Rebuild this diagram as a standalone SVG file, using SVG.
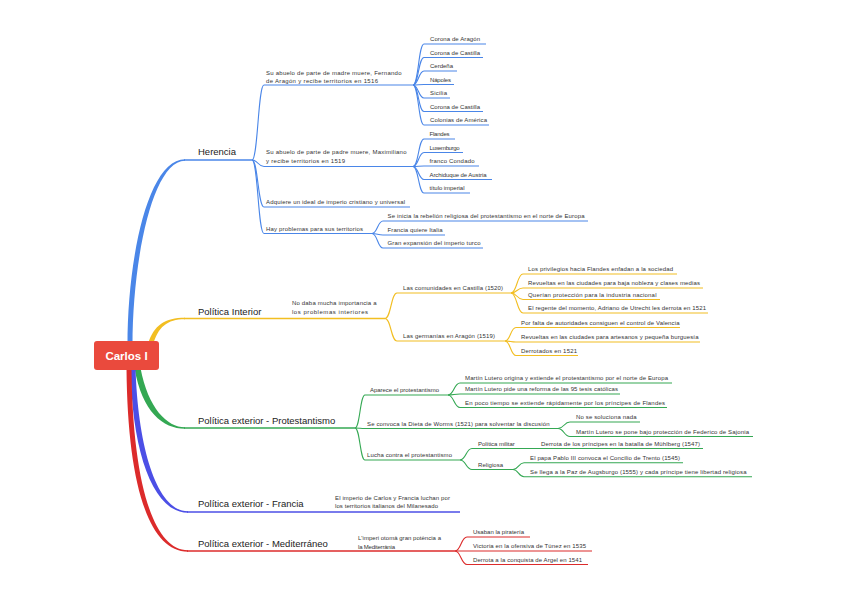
<svg xmlns="http://www.w3.org/2000/svg" width="848" height="599" viewBox="0 0 848 599">
<style>
.t{font-family:"Liberation Sans",Arial,sans-serif;font-size:6px;fill:#333}
.m{font-family:"Liberation Sans",Arial,sans-serif;font-size:9.5px;fill:#222}
.c{fill:none;stroke-width:1.1}
.u{fill:none;stroke-width:1.4}
.B{stroke:#4a86e8}.Y{stroke:#f2be22}.G{stroke:#34a853}.P{stroke:#4c4fe6}.R{stroke:#dc2b2b}
</style>
<rect width="848" height="599" fill="#ffffff"/>
<g id="connectors">
<path d="M127.5,345 C127.5,258 148,159.3 185,159.3 L185,160.7 C152,161 132.5,262 132.5,345 Z" fill="#4a86e8"/>
<path d="M148,344 C154,325 165,317.8 185,317.8 L185,319.2 C167,319.2 158,327 153,345 Z" fill="#f2be22"/>
<path d="M134.5,368 C142,412 163,428.7 185,428.7 L185,427.3 C167,427.3 148,408 140.5,368 Z" fill="#34a853"/>
<path d="M130.5,368 C132,452 153,512.7 188,512.7 L188,511.3 C157,511.3 138,448 135.5,368 Z" fill="#4c4fe6"/>
<path d="M126.5,368 C127.5,482 148,551.7 188,551.7 L188,550.3 C152,550.3 132.5,478 131.5,368 Z" fill="#dc2b2b"/>
<g class="B">
<path class="u" d="M184,160 L252,160"/>
<path class="c" d="M252,160 C258,160 258,85 264,85 L413,85"/>
<path class="c" d="M252,160 C258,160 258,166.5 264,166.5 L413,166.5"/>
<path class="c" d="M252,160 C258,160 258,207 264,207 L410,207"/>
<path class="c" d="M252,160 C258,160 258,233.5 264,233.5 L372,233.5"/>
<path class="c" d="M413,85 C418.5,85 418.5,44 424,44 L486,44"/>
<path class="c" d="M413,85 C418.5,85 418.5,57.5 424,57.5 L483,57.5"/>
<path class="c" d="M413,85 C418.5,85 418.5,71 424,71 L457,71"/>
<path class="c" d="M413,85 C418.5,85 418.5,84.5 424,84.5 L454,84.5"/>
<path class="c" d="M413,85 C418.5,85 418.5,98 424,98 L450,98"/>
<path class="c" d="M413,85 C418.5,85 418.5,111.5 424,111.5 L483,111.5"/>
<path class="c" d="M413,85 C418.5,85 418.5,125 424,125 L489,125"/>
<path class="c" d="M413,166.5 C418.5,166.5 418.5,139 424,139 L455,139"/>
<path class="c" d="M413,166.5 C418.5,166.5 418.5,152.5 424,152.5 L463,152.5"/>
<path class="c" d="M413,166.5 C418.5,166.5 418.5,166 424,166 L479,166"/>
<path class="c" d="M413,166.5 C418.5,166.5 418.5,179.5 424,179.5 L492,179.5"/>
<path class="c" d="M413,166.5 C418.5,166.5 418.5,193 424,193 L470,193"/>
<path class="c" d="M372,233.5 C377.5,233.5 377.5,221 383,221 L588,221"/>
<path class="c" d="M372,233.5 C377.5,233.5 377.5,235 383,235 L445,235"/>
<path class="c" d="M372,233.5 C377.5,233.5 377.5,248 383,248 L483,248"/>
</g>
<g class="Y">
<path class="u" d="M184,318.5 L385,318.5"/>
<path class="c" d="M385,318.5 C391,318.5 391,293 397,293 L511,293"/>
<path class="c" d="M385,318.5 C391,318.5 391,341 397,341 L505,341"/>
<path class="c" d="M511,293 C517,293 517,274 523,274 L677,274"/>
<path class="c" d="M511,293 C517,293 517,288 523,288 L703,288"/>
<path class="c" d="M511,293 C517,293 517,299.5 523,299.5 L660,299.5"/>
<path class="c" d="M511,293 C517,293 517,313 523,313 L708,313"/>
<path class="c" d="M505,341 C510.5,341 510.5,327.5 516,327.5 L680,327.5"/>
<path class="c" d="M505,341 C510.5,341 510.5,342 516,342 L700,342"/>
<path class="c" d="M505,341 C510.5,341 510.5,355.5 516,355.5 L578,355.5"/>
</g>
<g class="G">
<path class="u" d="M184,428 L355,428"/>
<path class="c" d="M355,428 C360,428 360,395 365,395 L448,395"/>
<path class="c" d="M355,428 C360,428 360,428.5 365,428.5 L558,428.5"/>
<path class="c" d="M355,428 C360,428 360,460 365,460 L460,460"/>
<path class="c" d="M448,395 C454,395 454,383 460,383 L672,383"/>
<path class="c" d="M448,395 C454,395 454,394 460,394 L620,394"/>
<path class="c" d="M448,395 C454,395 454,407.5 460,407.5 L667,407.5"/>
<path class="c" d="M558,428.5 C564,428.5 564,422 570,422 L640,422"/>
<path class="c" d="M558,428.5 C564,428.5 564,436.5 570,436.5 L753,436.5"/>
<path class="c" d="M460,460 C466,460 466,448.5 472,448.5 L703,448.5"/>
<path class="c" d="M460,460 C466,460 466,469.5 472,469.5 L513,469.5"/>
<path class="c" d="M513,469.5 C518.5,469.5 518.5,462.7 524,462.7 L683,462.7"/>
<path class="c" d="M513,469.5 C518.5,469.5 518.5,476.7 524,476.7 L752,476.7"/>
</g>
<g class="P">
<path class="u" d="M187,512 L460,512"/>
</g>
<g class="R">
<path class="u" d="M187,551 L455,551"/>
<path class="c" d="M455,551 C461,551 461,537 467,537 L530,537"/>
<path class="c" d="M455,551 C461,551 461,551 467,551 L592,551"/>
<path class="c" d="M455,551 C461,551 461,564.5 467,564.5 L588,564.5"/>
</g>
</g>
<g id="n-carlos">
<rect x="94" y="341" width="65" height="29" rx="3" fill="#ea4a3d"/>
<text x="126.5" y="359.8" text-anchor="middle" font-family="Liberation Sans, Arial, sans-serif" font-size="11.5" font-weight="bold" fill="#ffffff">Carlos I</text>
</g>
<g id="n-herencia"><text class="m" x="198" y="154.5">Herencia</text></g>
<g id="n-h1"><text class="t" x="266" y="74.5" textLength="135.5">Su abuelo de parte de madre muere, Fernando</text><text class="t" x="266" y="82.5" textLength="112">de Aragón y recibe territorios en 1516</text></g>
<g id="n-h1a"><text class="t" x="430" y="41.4" textLength="50">Corona de Aragón</text></g>
<g id="n-h1b"><text class="t" x="430" y="54.9" textLength="50">Corona de Castilla</text></g>
<g id="n-h1c"><text class="t" x="430" y="68.4" textLength="23">Cerdeña</text></g>
<g id="n-h1d"><text class="t" x="430" y="81.9" textLength="21">Nápoles</text></g>
<g id="n-h1e"><text class="t" x="430" y="95.4" textLength="17">Sicilia</text></g>
<g id="n-h1f"><text class="t" x="430" y="108.9" textLength="50">Corona de Castilla</text></g>
<g id="n-h1g"><text class="t" x="430" y="122.4" textLength="57">Colonias de América</text></g>
<g id="n-h2"><text class="t" x="266" y="154" textLength="140.5">Su abuelo de parte de padre muere, Maximiliano</text><text class="t" x="266" y="162.5" textLength="79">y recibe territorios en 1519</text></g>
<g id="n-h2a"><text class="t" x="429.5" y="136.4" textLength="20">Flandes</text></g>
<g id="n-h2b"><text class="t" x="429.5" y="149.9" textLength="30">Luxemburgo</text></g>
<g id="n-h2c"><text class="t" x="429.5" y="163.4" textLength="45">franco Condado</text></g>
<g id="n-h2d"><text class="t" x="429.5" y="176.9" textLength="57">Archiduque de Austria</text></g>
<g id="n-h2e"><text class="t" x="429.5" y="190.4" textLength="35">título imperial</text></g>
<g id="n-h3"><text class="t" x="266" y="204.4" textLength="139">Adquiere un ideal de imperio cristiano y universal</text></g>
<g id="n-h4"><text class="t" x="266" y="230.9" textLength="97">Hay problemas para sus territorios</text></g>
<g id="n-h4a"><text class="t" x="387.5" y="218.4" textLength="197">Se inicia la rebelión religiosa del protestantismo en el norte de Europa</text></g>
<g id="n-h4b"><text class="t" x="387.5" y="232.4" textLength="55">Francia quiere Italia</text></g>
<g id="n-h4c"><text class="t" x="387.5" y="245.4" textLength="93">Gran expansión del imperio turco</text></g>
<g id="n-interior"><text class="m" x="198" y="314.5">Política Interior</text></g>
<g id="n-i1"><text class="t" x="292" y="305" textLength="84.5">No daba mucha importancia a</text><text class="t" x="292" y="314" textLength="76">los problemas interiores</text></g>
<g id="n-i1a"><text class="t" x="403" y="290.4" textLength="100">Las comunidades en Castilla (1520)</text></g>
<g id="n-i1b"><text class="t" x="403" y="338.4" textLength="92">Las germanías en Aragón (1519)</text></g>
<g id="n-i1a1"><text class="t" x="528" y="271.4" textLength="145">Los privilegios hacia Flandes enfadan a la sociedad</text></g>
<g id="n-i1a2"><text class="t" x="528" y="285.4" textLength="172">Revueltas en las ciudades para baja nobleza y clases medias</text></g>
<g id="n-i1a3"><text class="t" x="528" y="296.9" textLength="128.5">Querían protección para la industria nacional</text></g>
<g id="n-i1a4"><text class="t" x="528" y="310.4" textLength="178">El regente del momento, Adriano de Utrecht les derrota en 1521</text></g>
<g id="n-i1b1"><text class="t" x="521" y="324.9" textLength="158.5">Por falta de autoridades consiguen el control de Valencia</text></g>
<g id="n-i1b2"><text class="t" x="521" y="339.4" textLength="177.5">Revueltas en las ciudades para artesanos y pequeña burguesía</text></g>
<g id="n-i1b3"><text class="t" x="521" y="352.9" textLength="56">Derrotados en 1521</text></g>
<g id="n-protestantismo"><text class="m" x="198" y="423.5">Política exterior - Protestantismo</text></g>
<g id="n-p1"><text class="t" x="370" y="392.4" textLength="69">Aparece el protestantismo</text></g>
<g id="n-p1a"><text class="t" x="465" y="380.4" textLength="203">Martín Lutero origina y extiende el protestantismo por el norte de Europa</text></g>
<g id="n-p1b"><text class="t" x="465" y="391.4" textLength="153">Martín Lutero pide una reforma de las 95 tesis católicas</text></g>
<g id="n-p1c"><text class="t" x="465" y="404.9" textLength="200">En poco tiempo se extiende rápidamente por los príncipes de Flandes</text></g>
<g id="n-p2"><text class="t" x="367" y="425.9" textLength="182.5">Se convoca la Dieta de Worms (1521) para solventar la discusión</text></g>
<g id="n-p2a"><text class="t" x="576" y="419.4" textLength="60.5">No se soluciona nada</text></g>
<g id="n-p2b"><text class="t" x="576" y="433.9" textLength="173">Martín Lutero se pone bajo protección de Federico de Sajonia</text></g>
<g id="n-p3"><text class="t" x="367" y="457.4" textLength="85">Lucha contra el protestantismo</text></g>
<g id="n-p3a"><text class="t" x="478" y="445.9" textLength="36.7">Política militar</text></g>
<g id="n-p3a1"><text class="t" x="541" y="445.9" textLength="159">Derrota de los príncipes en la batalla de Mühlberg (1547)</text></g>
<g id="n-p3b"><text class="t" x="478" y="466.9" textLength="25">Religiosa</text></g>
<g id="n-p3b1"><text class="t" x="530" y="460.1" textLength="150">El papa Pablo III convoca el Concilio de Trento (1545)</text></g>
<g id="n-p3b2"><text class="t" x="530" y="474.1" textLength="216.5">Se llega a la Paz de Augsburgo (1555) y cada príncipe tiene libertad religiosa</text></g>
<g id="n-francia"><text class="m" x="198" y="507">Política exterior - Francia</text></g>
<g id="n-f1"><text class="t" x="335" y="500" textLength="115">El imperio de Carlos y Francia luchan por</text><text class="t" x="335" y="508" textLength="103">los territorios italianos del Milanesado</text></g>
<g id="n-mediterraneo"><text class="m" x="198" y="547">Política exterior - Mediterráneo</text></g>
<g id="n-m1"><text class="t" x="358" y="540" textLength="83">L'imperi otomà gran potència a</text><text class="t" x="358" y="548.5" textLength="37">la Mediterrània</text></g>
<g id="n-m2"><text class="t" x="473" y="534.4" textLength="51">Usaban la piratería</text></g>
<g id="n-m3"><text class="t" x="473" y="548.4" textLength="113">Victoria en la ofensiva de Túnez en 1535</text></g>
<g id="n-m4"><text class="t" x="473" y="561.9" textLength="109">Derrota a la conquista de Argel en 1541</text></g>
</svg>
